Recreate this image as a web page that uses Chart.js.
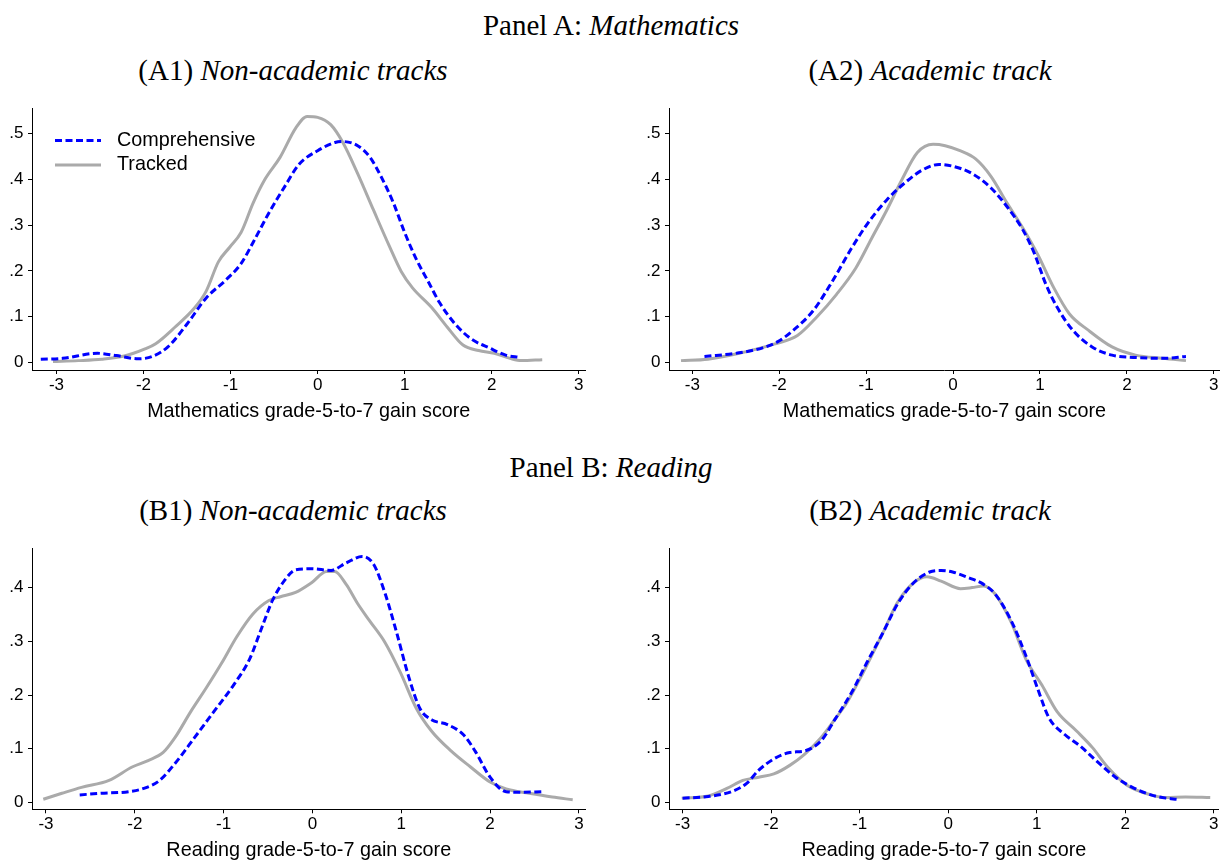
<!DOCTYPE html>
<html>
<head>
<meta charset="utf-8">
<title>Gain score densities</title>
<script src="https://cdn.jsdelivr.net/npm/chart.js@4.4.1/dist/chart.umd.min.js"></script>
<style>
  html, body { margin: 0; padding: 0; background: #fff; overflow: hidden; }
  body { width: 1221px; height: 861px; position: relative; font-family: "Liberation Serif", "Times New Roman", serif; color: #000; }
  .ttl { position: absolute; transform: translate(-50%, -50%); white-space: nowrap; font-size: 29px; line-height: 1; }
  canvas { position: absolute; }
</style>
</head>
<body>
<div class="ttl" style="left:611px; top:25px">Panel A: <i>Mathematics</i></div>
<div class="ttl" style="left:293px; top:69.5px">(A1) <i>Non-academic tracks</i></div>
<div class="ttl" style="left:930px; top:69.5px">(A2) <i>Academic track</i></div>
<div class="ttl" style="left:611px; top:467px">Panel B: <i>Reading</i></div>
<div class="ttl" style="left:293px; top:510px">(B1) <i>Non-academic tracks</i></div>
<div class="ttl" style="left:930px; top:510px">(B2) <i>Academic track</i></div>

<canvas id="a1" width="600" height="335" style="left:0;top:95px"></canvas>
<canvas id="a2" width="584" height="335" style="left:637px;top:95px"></canvas>
<canvas id="b1" width="600" height="326" style="left:0;top:535px"></canvas>
<canvas id="b2" width="584" height="326" style="left:637px;top:535px"></canvas>

<script>
// tick labels
const xTicks = [-3, -2, -1, 0, 1, 2, 3]
const mathYTicks = [0, 0.1, 0.2, 0.3, 0.4, 0.5]
const readYTicks = [0, 0.1, 0.2, 0.3, 0.4]
const seriesNames = ['Comprehensive', 'Tracked']

// (A1) mathematics, non-academic tracks
const a1CompX = [-3.18, -2.93, -2.53, -2.31, -2.06, -1.90, -1.72, -1.50, -1.28, -1.05, -0.88, -0.74, -0.56, -0.38, -0.21, 0.00, 0.20, 0.29, 0.46, 0.60, 0.73, 0.87, 1.00, 1.13, 1.27, 1.40, 1.58, 1.76, 1.98, 2.16, 2.32]
const a1CompY = [0.007, 0.009, 0.020, 0.015, 0.008, 0.013, 0.034, 0.084, 0.141, 0.181, 0.216, 0.263, 0.327, 0.384, 0.434, 0.463, 0.481, 0.483, 0.474, 0.449, 0.406, 0.349, 0.284, 0.227, 0.177, 0.131, 0.084, 0.052, 0.031, 0.016, 0.011]
const a1TrackX = [-3.04, -2.75, -2.48, -2.22, -1.99, -1.86, -1.64, -1.41, -1.28, -1.14, -1.01, -0.88, -0.74, -0.61, -0.43, -0.25, -0.12, 0.00, 0.15, 0.29, 0.46, 0.64, 0.82, 0.96, 1.09, 1.31, 1.49, 1.67, 1.85, 2.03, 2.21, 2.34, 2.58]
const a1TrackY = [0.002, 0.004, 0.007, 0.014, 0.029, 0.041, 0.077, 0.120, 0.156, 0.220, 0.252, 0.284, 0.349, 0.399, 0.449, 0.513, 0.538, 0.536, 0.520, 0.481, 0.413, 0.334, 0.256, 0.199, 0.163, 0.120, 0.077, 0.038, 0.026, 0.020, 0.009, 0.004, 0.006]

// (A2) mathematics, academic track
const a2CompX = [-2.86, -2.46, -2.19, -2.02, -1.84, -1.61, -1.39, -1.17, -0.99, -0.76, -0.54, -0.36, -0.16, 0.00, 0.22, 0.44, 0.62, 0.80, 0.93, 1.07, 1.20, 1.38, 1.60, 1.83, 2.10, 2.41, 2.68]
const a2CompY = [0.013, 0.021, 0.032, 0.045, 0.070, 0.113, 0.177, 0.249, 0.302, 0.356, 0.395, 0.420, 0.433, 0.429, 0.413, 0.381, 0.341, 0.291, 0.241, 0.170, 0.120, 0.070, 0.034, 0.016, 0.011, 0.009, 0.013]
const a2TrackX = [-3.13, -2.82, -2.46, -2.06, -1.79, -1.57, -1.34, -1.12, -0.94, -0.76, -0.59, -0.41, -0.23, -0.09, 0.08, 0.26, 0.44, 0.62, 0.80, 0.98, 1.16, 1.34, 1.56, 1.83, 2.10, 2.41, 2.68]
const a2TrackY = [0.004, 0.007, 0.020, 0.040, 0.059, 0.099, 0.149, 0.206, 0.270, 0.334, 0.399, 0.459, 0.477, 0.474, 0.463, 0.445, 0.406, 0.349, 0.295, 0.234, 0.163, 0.106, 0.070, 0.034, 0.016, 0.009, 0.004]

// (B1) reading, non-academic tracks
const b1CompX = [-2.62, -2.38, -2.07, -1.90, -1.72, -1.55, -1.33, -1.11, -0.89, -0.71, -0.58, -0.45, -0.32, -0.19, -0.01, 0.21, 0.38, 0.56, 0.69, 0.82, 0.95, 1.08, 1.21, 1.34, 1.52, 1.70, 1.83, 2.00, 2.18, 2.35, 2.59]
const b1CompY = [0.014, 0.017, 0.020, 0.026, 0.041, 0.072, 0.120, 0.169, 0.218, 0.266, 0.321, 0.376, 0.412, 0.433, 0.435, 0.432, 0.446, 0.458, 0.443, 0.388, 0.315, 0.236, 0.175, 0.154, 0.145, 0.126, 0.096, 0.047, 0.020, 0.019, 0.020]
const b1TrackX = [-3.03, -2.82, -2.60, -2.29, -2.03, -1.85, -1.68, -1.55, -1.37, -1.20, -1.02, -0.85, -0.67, -0.49, -0.36, -0.19, -0.01, 0.16, 0.25, 0.38, 0.51, 0.64, 0.82, 0.99, 1.17, 1.34, 1.56, 1.78, 2.00, 2.18, 2.44, 2.70, 2.93]
const b1TrackY = [0.006, 0.017, 0.028, 0.041, 0.066, 0.078, 0.093, 0.120, 0.169, 0.212, 0.260, 0.309, 0.351, 0.376, 0.383, 0.391, 0.409, 0.430, 0.430, 0.406, 0.370, 0.339, 0.297, 0.242, 0.175, 0.133, 0.096, 0.066, 0.038, 0.025, 0.017, 0.010, 0.005]

// (B2) reading, academic track
const b2CompX = [-3.00, -2.71, -2.45, -2.28, -2.14, -1.97, -1.79, -1.62, -1.44, -1.27, -1.09, -0.92, -0.74, -0.57, -0.39, -0.21, -0.08, 0.05, 0.22, 0.40, 0.53, 0.71, 0.88, 1.01, 1.14, 1.32, 1.49, 1.67, 1.89, 2.07, 2.29, 2.46, 2.58]
const b2CompY = [0.008, 0.011, 0.020, 0.035, 0.060, 0.081, 0.093, 0.096, 0.114, 0.157, 0.205, 0.260, 0.315, 0.370, 0.409, 0.429, 0.432, 0.429, 0.419, 0.406, 0.388, 0.339, 0.272, 0.212, 0.157, 0.126, 0.105, 0.078, 0.047, 0.029, 0.014, 0.008, 0.006]
const b2TrackX = [-3.01, -2.71, -2.50, -2.32, -2.14, -1.97, -1.79, -1.62, -1.44, -1.27, -1.14, -0.96, -0.74, -0.57, -0.39, -0.24, -0.08, 0.14, 0.27, 0.40, 0.53, 0.71, 0.88, 1.06, 1.23, 1.45, 1.63, 1.80, 2.02, 2.29, 2.46, 2.68, 2.96]
const b2TrackY = [0.008, 0.012, 0.026, 0.041, 0.047, 0.053, 0.069, 0.090, 0.120, 0.157, 0.187, 0.242, 0.315, 0.373, 0.409, 0.420, 0.412, 0.398, 0.400, 0.403, 0.388, 0.336, 0.266, 0.218, 0.169, 0.133, 0.102, 0.066, 0.032, 0.014, 0.009, 0.010, 0.009]

const SANS = '"Liberation Sans", Arial, Helvetica, sans-serif'
Chart.defaults.font.family = SANS
Chart.defaults.color = '#000'

const toPoints = (xs, ys) => xs.map((x, i) => ({ x: x, y: ys[i] }))

const fmtY = v => v === 0 ? '0' : String(+v.toFixed(1)).replace(/^0\./, '.')

// Legend drawn inside the plot region, Stata style
const legendInside = {
    id: 'legendInside',
    afterDatasetsDraw(chart) {
        const { ctx, chartArea } = chart
        ctx.save()
        ctx.font = '19.8px ' + SANS
        ctx.textBaseline = 'middle'
        ctx.textAlign = 'left'
        ctx.fillStyle = '#000'
        chart.data.datasets.forEach((ds, i) => {
            const x = chartArea.left + 23
            const y = chartArea.top + 32.5 + i * 24.5
            ctx.beginPath()
            ctx.strokeStyle = ds.borderColor
            ctx.lineWidth = ds.borderWidth
            ctx.lineCap = 'butt'
            ctx.setLineDash(ds.borderDash || [])
            ctx.moveTo(x, y)
            ctx.lineTo(x + 46, y)
            ctx.stroke()
            ctx.fillText(ds.label, x + 62, y)
        })
        ctx.restore()
    }
}

function makeChart(id, opts) {
    const datasets = [
        {
            label: seriesNames[0],
            data: toPoints(opts.compX, opts.compY),
            borderColor: '#0000ff',
            borderWidth: 3,
            borderDash: [7, 3.5]
        },
        {
            label: seriesNames[1],
            data: toPoints(opts.trackX, opts.trackY),
            borderColor: '#aaaaaa',
            borderWidth: 3
        }
    ]

    return new Chart(document.getElementById(id), {
        type: 'line',
        data: { datasets: datasets },
        options: {
            responsive: false,
            animation: false,
            events: [],
            layout: { padding: { top: opts.padTop, right: opts.padRight, left: 0, bottom: 0 } },
            elements: {
                point: { radius: 0 },
                line: { cubicInterpolationMode: 'monotone', fill: false }
            },
            plugins: {
                legend: { display: false },
                tooltip: { enabled: false }
            },
            scales: {
                x: {
                    type: 'linear',
                    min: opts.xMin,
                    max: opts.xMax,
                    afterBuildTicks: s => { s.ticks = xTicks.map(v => ({ value: v })) },
                    afterFit: s => { s.height = opts.xHeight },
                    border: { display: true, color: '#000', width: 1 },
                    grid: { drawOnChartArea: false, drawTicks: true, tickLength: 4, color: '#000' },
                    ticks: {
                        font: { size: 17, lineHeight: 1 },
                        padding: 2.5,
                        maxRotation: 0,
                        callback: v => String(v)
                    },
                    title: {
                        display: true,
                        text: opts.xTitle,
                        font: { size: 19.8, lineHeight: 1 },
                        padding: { top: 0, bottom: opts.titlePad }
                    }
                },
                y: {
                    type: 'linear',
                    min: opts.yMin,
                    max: opts.yMax,
                    afterBuildTicks: s => { s.ticks = opts.yTicks.map(v => ({ value: v })) },
                    afterFit: s => { s.width = 32 },
                    border: { display: true, color: '#000', width: 1 },
                    grid: { drawOnChartArea: false, drawTicks: true, tickLength: 4, color: '#000' },
                    ticks: {
                        font: { size: 17, lineHeight: 1 },
                        padding: 4.5,
                        callback: v => fmtY(v)
                    }
                }
            }
        },
        plugins: opts.legend ? [legendInside] : []
    })
}

const mathLayout = { yMin: -0.0165, yMax: 0.5564, yTicks: mathYTicks, padTop: 8, xHeight: 60, titlePad: 8.3, xTitle: 'Mathematics grade-5-to-7 gain score' }
const readLayout = { yMin: -0.0128, yMax: 0.4737, yTicks: readYTicks, padTop: 7.7, xHeight: 51.7, titlePad: 0.3, xTitle: 'Reading grade-5-to-7 gain score' }

makeChart('a1', Object.assign({}, mathLayout, {
    xMin: -3.281, xMax: 3.077, padRight: 14.5, legend: true,
    compX: a1CompX, compY: a1CompY, trackX: a1TrackX, trackY: a1TrackY
}))
makeChart('a2', Object.assign({}, mathLayout, {
    xMin: -3.268, xMax: 3.069, padRight: 0, legend: false,
    compX: a2CompX, compY: a2CompY, trackX: a2TrackX, trackY: a2TrackY
}))
makeChart('b1', Object.assign({}, readLayout, {
    xMin: -3.157, xMax: 3.074, padRight: 14.5, legend: false,
    compX: b1CompX, compY: b1CompY, trackX: b1TrackX, trackY: b1TrackY
}))
makeChart('b2', Object.assign({}, readLayout, {
    xMin: -3.154, xMax: 3.055, padRight: 0, legend: false,
    compX: b2CompX, compY: b2CompY, trackX: b2TrackX, trackY: b2TrackY
}))
</script>
</body>
</html>
